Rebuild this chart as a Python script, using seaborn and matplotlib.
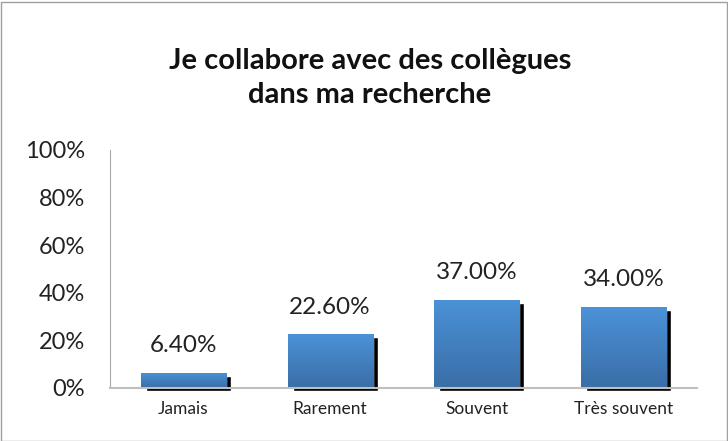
import matplotlib.pyplot as plt
import matplotlib.transforms as mtransforms
from matplotlib.patches import Rectangle
import seaborn as sns
import pandas as pd
import numpy as np

categories = ["Jamais", "Rarement", "Souvent", "Très souvent"]
values = [6.4, 22.6, 37.0, 34.0]
labels = ["6.40%", "22.60%", "37.00%", "34.00%"]
yticks = [0, 20, 40, 60, 80, 100]

df = pd.DataFrame({"cat": categories, "val": values})

sns.set_style("white")
plt.rcParams["font.family"] = ["Lato", "DejaVu Sans"]

fig = plt.figure(figsize=(7.28, 4.41), dpi=100)
ax = fig.add_axes([110 / 728, 1 - 388 / 441, 587 / 728, 238 / 441])

# black shadow bars, shifted right/down
sns.barplot(data=df, x="cat", y="val", color="black", width=0.58,
            saturation=1, ax=ax, zorder=1)
shift = mtransforms.ScaledTranslation(5 / 100, -3 / 100, fig.dpi_scale_trans)
for p in ax.patches:
    p.set_transform(ax.transData + shift)
    p.set_clip_on(False)
n_shadow = len(ax.patches)

# blue bars on top
sns.barplot(data=df, x="cat", y="val", color="#4a8fd5", width=0.58,
            saturation=1, ax=ax, zorder=2)

# gradient fill for the blue bars
grad = np.linspace(0, 1, 100).reshape(-1, 1)
cmap = sns.blend_palette(["#4b92d8", "#3a6ea6"], as_cmap=True)
for p in ax.patches[n_shadow:]:
    x0, y0 = p.get_x(), p.get_y()
    w, h = p.get_width(), p.get_height()
    im = ax.imshow(grad, cmap=cmap, aspect="auto",
                   extent=[x0, x0 + w, y0, y0 + h], origin="upper", zorder=3)
    im.set_clip_path(p)

for i, lab in enumerate(labels):
    ax.text(i, values[i] + 7, lab, ha="center", va="bottom", fontsize=17.5,
            color="#222222")

ax.set_xlim(-0.5, 3.5)
ax.set_ylim(0, 100)
ax.set_yticks(yticks)
ax.set_yticklabels([f"{t}%" for t in yticks], fontsize=17, color="#222222")
ax.tick_params(axis="x", labelsize=12.5, colors="#222222", length=0, pad=9)
ax.tick_params(axis="y", length=0, pad=18)
ax.set_xlabel("")
ax.set_ylabel("")
for s in ["top", "right"]:
    ax.spines[s].set_visible(False)
ax.spines["left"].set_color("#a6a6a6")
ax.spines["bottom"].set_color("#bfbfbf")
ax.spines["bottom"].set_linewidth(1.5)
ax.spines["bottom"].set_zorder(4)

fig.text(370 / 728, 1 - 78 / 441, "Je collabore avec des collègues\ndans ma recherche",
         ha="center", va="center", fontsize=21, fontweight="bold",
         color="#111111", linespacing=1.35)

fig.patches.append(Rectangle((0.5 / 728, 0.5 / 441), 726 / 728, 439 / 441,
                             transform=fig.transFigure, fill=False,
                             edgecolor="#a0a0a0", linewidth=1))

fig.savefig("out.png", dpi=100)
